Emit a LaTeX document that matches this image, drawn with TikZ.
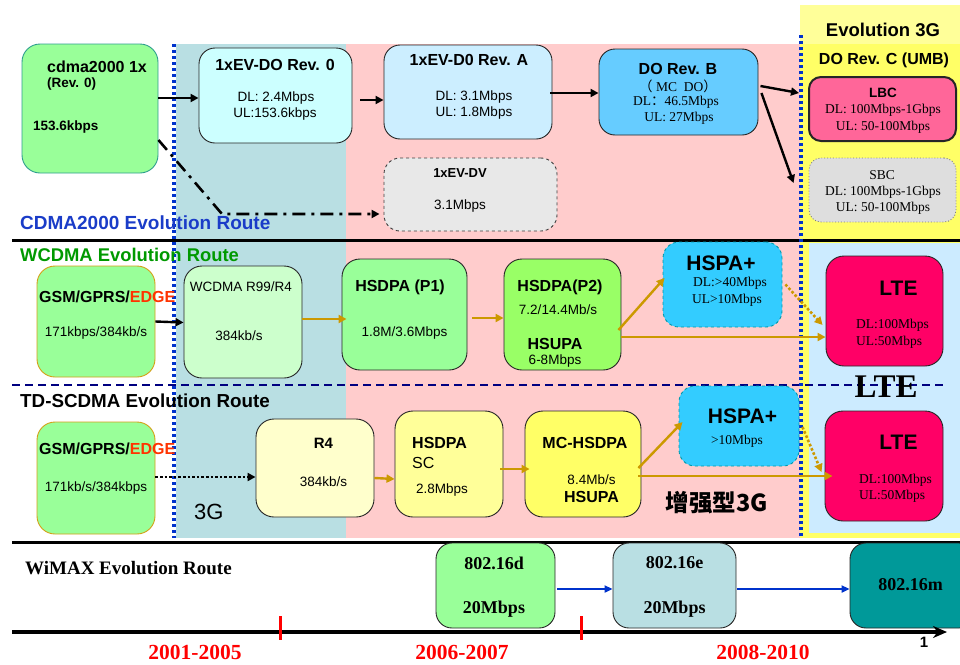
\documentclass[tikz,border=0pt]{standalone}
\usepackage{fontspec}
\setmainfont{Liberation Serif}
\setsansfont{Liberation Sans}
\newfontfamily\cjk{Noto Sans CJK SC}
\usetikzlibrary{arrows.meta,calc}
\newcommand\myfs[1]{\fontsize{#1}{#1}\selectfont}
\definecolor{tealbg}{HTML}{B9DFE3}
\definecolor{pinkbg}{HTML}{FFCCCC}
\definecolor{ylwtop}{HTML}{FFFF99}
\definecolor{ylwbg}{HTML}{FFFF66}
\definecolor{ltebg}{HTML}{CCEBFF}
\definecolor{dotblue}{HTML}{0033CC}
\definecolor{gold}{HTML}{CC9900}
\definecolor{navy}{HTML}{000080}
\definecolor{routeblue}{HTML}{1A3CC8}
\definecolor{routegreen}{HTML}{009900}
\definecolor{edgered}{HTML}{FF3300}
\definecolor{lgreen}{HTML}{99FF99}
\definecolor{lgreenb}{HTML}{99FF66}
\definecolor{pgreen}{HTML}{CCFFCC}
\definecolor{lcyan}{HTML}{CCFFFF}
\definecolor{lblue}{HTML}{CCEEFF}
\definecolor{mblue}{HTML}{66CCFF}
\definecolor{hblue}{HTML}{33CCFF}
\definecolor{lbcpink}{HTML}{FF6699}
\definecolor{ltered}{HTML}{FF0066}
\definecolor{lyel}{HTML}{FFFFCC}
\definecolor{myel}{HTML}{FFFF99}
\definecolor{syel}{HTML}{FFFF66}
\definecolor{wteal}{HTML}{009999}
\definecolor{cdmaborder}{HTML}{2E9E8E}
\definecolor{gsmborder}{HTML}{D4A017}
\definecolor{hspaborder}{HTML}{0099AA}
\begin{document}
\begin{tikzpicture}[x=1pt,y=-1pt,
  box/.style={draw=black!85, line width=0.9pt, rounded corners=16pt, inner sep=0pt},
  sfn/.style={inner sep=0pt, font=\sffamily\myfs{#1}},
  sfb/.style={inner sep=0pt, font=\sffamily\bfseries\myfs{#1}},
  srn/.style={inner sep=0pt, font=\rmfamily\myfs{#1}},
  srb/.style={inner sep=0pt, font=\rmfamily\bfseries\myfs{#1}},
  blk/.style={draw=black, line width=2.4pt, -{Triangle[length=8pt,width=8pt]}},
  gld/.style={draw=gold, line width=2.4pt, -{Triangle[length=8pt,width=8pt]}},
  gdot/.style={draw=gold, line width=2.6pt, dotted, -{Triangle[length=8pt,width=8pt]}},
  blu/.style={draw=dotblue, line width=2pt, -{Triangle[length=8pt,width=7pt]}},
]
\useasboundingbox (0,0) rectangle (960,664);
% backgrounds
\fill[tealbg] (176,44) rectangle (346,538);
\fill[pinkbg] (346,44) rectangle (800,538);
\fill[ylwtop] (800,5) rectangle (960,44);
\fill[ylwbg] (800,44) rectangle (960,538);
\fill[ltebg] (809,243) rectangle (960,533);
% separators
\draw[line width=3pt] (12,240) -- (960,240);
\draw[line width=3pt] (12,542) -- (960,542);
\draw[navy, line width=2pt, dash pattern=on 8pt off 5pt] (12,385) -- (946,385);
\draw[dotblue, line width=3.2pt, dash pattern=on 3pt off 3pt] (174,44) -- (174,538);
\draw[dotblue, line width=3.2pt, dash pattern=on 3pt off 3pt] (801,35) -- (801,538);

% section labels
\node[sfb=19, text=routeblue, anchor=west] (lcdma) at (20,223) {CDMA2000 Evolution Route};
\node[sfb=18.4, text=routegreen, anchor=west] (lwcdma) at (20,255) {WCDMA Evolution Route};
\node[sfb=18.8, anchor=west] (ltd) at (20,401) {TD-SCDMA Evolution Route};
\node[srb=19, anchor=west] (lwimax) at (25,568) {WiMAX Evolution Route};
\node[sfn=22, anchor=west] (l3g) at (194,512) {3G};
\node[srb=33] (llte) at (886,387) {LTE};
\node[inner sep=0pt, font=\cjk\bfseries\myfs{23.5}] (lenh) at (717,503) {增强型3G};
\node[sfb=18.5] (levo) at (883,30) {Evolution 3G};
\node[sfb=16] (ldoc) at (884,60) {DO Rev. C (UMB)};

% CDMA row boxes
\node[box, draw=cdmaborder, fill=lgreen, minimum width=136pt, minimum height=129pt, rounded corners=18pt] (cdma) at (90,108.5) {};
\node[box, fill=lcyan, minimum width=153pt, minimum height=95pt] (rev0) at (275.5,95.5) {};
\node[box, fill=lblue, minimum width=168pt, minimum height=94pt] (revA) at (468,92) {};
\node[box, fill=mblue, minimum width=159pt, minimum height=86pt] (revB) at (678.5,92) {};
\node[box, draw=black!75, dashed, fill=black!9, minimum width=173pt, minimum height=73pt] (dv) at (470.5,194.5) {};
\node[box, line width=2pt, fill=lbcpink, minimum width=147pt, minimum height=64pt, rounded corners=12pt] (lbc) at (882.5,109) {};
\node[box, draw=black!50, dotted, fill=black!13, minimum width=147pt, minimum height=64pt, rounded corners=12pt] (sbc) at (882.5,190) {};

\node[sfb=16, anchor=west] (tc1) at (47,67) {cdma2000 1x};
\node[sfb=13.5, anchor=west] (tc2) at (47,84) {(Rev. 0)};
\node[sfb=13.5, anchor=west] (tc3) at (33,127) {153.6kbps};
\node[sfb=16] (tr01) at (275,65) {1xEV-DO Rev. 0};
\node[sfn=13.5] (tr02) at (276,98) {DL: 2.4Mbps};
\node[sfn=13.5] (tr03) at (275,114) {UL:153.6kbps};
\node[sfb=16] (tra1) at (469,60) {1xEV-D0 Rev. A};
\node[sfn=13.5] (tra2) at (474,97) {DL: 3.1Mbps};
\node[sfn=13.5] (tra3) at (474,113) {UL: 1.8Mbps};
\node[sfb=16] (trb1) at (678,69) {DO Rev. B};
\node[srn=13.5] (trb2) at (678,86) {{\cjk （} MC\ \ DO{\cjk ）}};
\node[srn=13.5] (trb3) at (676,102) {DL{\cjk ：}46.5Mbps};
\node[srn=13.5] (trb4) at (679,118) {UL: 27Mbps};
\node[sfb=13] (tdv1) at (460,173) {1xEV-DV};
\node[sfn=13.5] (tdv2) at (460,206) {3.1Mbps};
\node[sfb=13.5] (tl1) at (883,93) {LBC};
\node[srn=13.5] (tl2) at (883,110) {DL: 100Mbps-1Gbps};
\node[srn=13.5] (tl3) at (883,127) {UL: 50-100Mbps};
\node[srn=13.5] (ts1) at (882,175) {SBC};
\node[srn=13.5] (ts2) at (883,192) {DL: 100Mbps-1Gbps};
\node[srn=13.5] (ts3) at (883,208) {UL: 50-100Mbps};

% WCDMA row boxes
\node[box, draw=gsmborder, fill=lgreen, minimum width=118pt, minimum height=111pt, rounded corners=18pt] (gsmw) at (96,321.5) {};
\node[box, fill=pgreen, minimum width=118pt, minimum height=112pt, rounded corners=18pt] (wcd) at (243,322) {};
\node[box, fill=lgreen, minimum width=125pt, minimum height=111pt, rounded corners=18pt] (p1) at (404.5,314.5) {};
\node[box, fill=lgreenb, minimum width=117pt, minimum height=111pt, rounded corners=18pt] (p2) at (562.5,314.5) {};
\node[box, draw=hspaborder, dashed, fill=hblue, minimum width=119pt, minimum height=85pt] (hspaw) at (722.5,284.5) {};
\node[box, fill=ltered, minimum width=117pt, minimum height=110pt, rounded corners=18pt] (ltew) at (884.5,311) {};

\node[sfb=16, anchor=west] (tgw1) at (39,297) {GSM/GPRS/\textcolor{edgered}{EDGE}};
\node[sfn=13.5] (tgw2) at (96,333) {171kbps/384kb/s};
\node[sfn=13.5] (tw1) at (241,287) {WCDMA R99/R4};
\node[sfn=13.5] (tw2) at (239,336) {384kb/s};
\node[sfb=16] (tp11) at (400,287) {HSDPA (P1)};
\node[sfn=13.5] (tp12) at (404.5,333) {1.8M/3.6Mbps};
\node[sfb=16] (tp21) at (560,287) {HSDPA(P2)};
\node[sfn=13.5] (tp22) at (558,310) {7.2/14.4Mb/s};
\node[sfb=16] (tp23) at (555,344) {HSUPA};
\node[sfn=13.5] (tp24) at (555,361) {6-8Mbps};
\node[sfb=21] (thw1) at (721,263) {HSPA+};
\node[srn=13.5] (thw2) at (730,283) {DL:>40Mbps};
\node[srn=13.5] (thw3) at (727,300) {UL>10Mbps};
\node[sfb=21] (tlw1) at (898.5,288) {LTE};
\node[srn=13.5, anchor=west] (tlw2) at (856,325) {DL:100Mbps};
\node[srn=13.5, anchor=west] (tlw3) at (856,342) {UL:50Mbps};

% TD-SCDMA row boxes
\node[box, draw=gsmborder, fill=lgreen, minimum width=118pt, minimum height=112pt, rounded corners=18pt] (gsmt) at (96,478) {};
\node[box, fill=lyel, minimum width=118pt, minimum height=98pt, rounded corners=18pt] (r4) at (315,468) {};
\node[box, fill=myel, minimum width=108pt, minimum height=106pt, rounded corners=18pt] (sc) at (449,464) {};
\node[box, fill=syel, minimum width=116pt, minimum height=106pt, rounded corners=18pt] (mc) at (583,464) {};
\node[box, draw=hspaborder, dashed, fill=hblue, minimum width=120pt, minimum height=80pt] (hspat) at (739,426) {};
\node[box, fill=ltered, minimum width=118pt, minimum height=110pt, rounded corners=18pt] (ltet) at (884,466) {};

\node[sfb=16, anchor=west] (tgt1) at (39,449) {GSM/GPRS/\textcolor{edgered}{EDGE}};
\node[sfn=13.5] (tgt2) at (96,488) {171kb/s/384kbps};
\node[sfb=15] (tr41) at (323.5,443) {R4};
\node[sfn=13.5] (tr42) at (323.5,482) {384kb/s};
\node[sfb=16, anchor=west] (tsc1) at (412,443) {HSDPA};
\node[sfn=16, anchor=west] (tsc2) at (412,462.5) {SC};
\node[sfn=13.5, anchor=west] (tsc3) at (416,490) {2.8Mbps};
\node[sfb=16] (tmc1) at (585,443) {MC-HSDPA};
\node[sfn=13.5] (tmc2) at (591.5,480) {8.4Mb/s};
\node[sfb=16] (tmc3) at (591.5,497) {HSUPA};
\node[sfb=21] (tht1) at (742.5,416) {HSPA+};
\node[srn=13.5] (tht2) at (737,441) {>10Mbps};
\node[sfb=21] (tlt1) at (898.5,442) {LTE};
\node[srn=13.5, anchor=west] (tlt2) at (859,480) {DL:100Mbps};
\node[srn=13.5, anchor=west] (tlt3) at (859,496) {UL:50Mbps};

% WiMAX row
\node[box, fill=lgreen, minimum width=119pt, minimum height=85pt] (wd) at (495.5,585.5) {};
\node[box, fill=tealbg, minimum width=123pt, minimum height=85pt] (we) at (674.5,585.5) {};
\node[box, fill=wteal, minimum width=125pt, minimum height=85pt] (wm) at (912.5,585.5) {};
\node[srb=18] (twd1) at (494,563) {802.16d};
\node[srb=18] (twd2) at (494,609) {20Mbps};
\node[srb=18] (twe1) at (674.5,563) {802.16e};
\node[srb=18] (twe2) at (674.5,609) {20Mbps};
\node[srb=18] (twm1) at (910.5,585) {802.16m};

% CDMA connectors
\draw[blk] ([yshift=10.5pt]cdma.east) -- ([yshift=-2.5pt]rev0.west);
\draw[blk] ([xshift=8pt,yshift=-4.5pt]rev0.east) -- ([yshift=-8pt]revA.west);
\draw[blk] ([xshift=-2pt,yshift=-1pt]revA.east) -- ([yshift=-1pt]revB.west);
\draw[blk] ([xshift=2pt,yshift=6pt]revB.east) -- ([xshift=-9pt,yshift=16pt]lbc.west);
\draw[blk] ([xshift=3pt,yshift=-1pt]revB.east) -- ([xshift=-15pt,yshift=7pt]sbc.west);
\coordinate (dvbend) at (222,214);
\draw[line width=2.6pt, dash pattern=on 13pt off 6pt on 3pt off 6pt, -{Triangle[length=8pt,width=8pt]}]
  ([yshift=-31.5pt]cdma.east) -- (dvbend) -- ([xshift=-4pt,yshift=-19.5pt]dv.west);

% WCDMA connectors
\draw[blk] (gsmw.east) -- ([yshift=-0.5pt]wcd.west);
\draw[gld] ([yshift=3pt]wcd.east) -- ([xshift=5pt,yshift=-4.5pt]p1.west);
\draw[gld] ([xshift=5pt,yshift=-3.5pt]p1.east) -- ([yshift=-3.5pt]p2.west);
\draw[gld] ([xshift=-3pt,yshift=-15.5pt]p2.east) -- ([xshift=2pt,yshift=6.5pt]hspaw.west);
\draw[gld] ([yshift=-22.5pt]p2.east) -- ([yshift=-26pt]ltew.west);
\draw[gdot] ([xshift=3pt]hspaw.east) -- ([xshift=-3pt,yshift=-14pt]ltew.west);

% TD-SCDMA connectors
\draw[line width=2.6pt, dotted, -{Triangle[length=8pt,width=8pt]}] ([yshift=1pt]gsmt.east) -- ([yshift=-9pt]r4.west);
\draw[gld] ([yshift=-10pt]r4.east) -- ([yshift=-15pt]sc.west);
\draw[gld] ([xshift=-3pt,yshift=-5pt]sc.east) -- ([xshift=5pt,yshift=-5pt]mc.west);
\draw[gld] ([xshift=-3pt,yshift=-4pt]mc.east) -- ([xshift=4pt,yshift=4pt]hspat.west);
\draw[gld] ([xshift=-3pt,yshift=-12pt]mc.east) -- ([xshift=8pt,yshift=-10pt]ltet.west);
\draw[gdot] ([xshift=3pt,yshift=-1pt]hspat.east) -- ([xshift=-3pt,yshift=-6pt]ltet.west);

% WiMAX connectors
\draw[blu] ([xshift=2pt,yshift=-3.5pt]wd.east) -- ([yshift=-3.5pt]we.west);
\draw[blu] ([xshift=1pt,yshift=-3.5pt]we.east) -- ([yshift=-3.5pt]wm.west);

% timeline
\coordinate (axs) at (12,632);
\coordinate (axe) at (947,632);
\draw[line width=4pt, -{Stealth[length=14pt,width=12pt]}] (axs) -- (axe);
\coordinate (tk1) at (280,616);
\coordinate (tk1b) at (280,640);
\coordinate (tk2) at (581,616);
\coordinate (tk2b) at (581,640);
\draw[red, line width=3pt] (tk1) -- (tk1b);
\draw[red, line width=3pt] (tk2) -- (tk2b);
\node[srb=21.5, text=red] (y1) at (195,652) {2001-2005};
\node[srb=21.5, text=red] (y2) at (462,652) {2006-2007};
\node[srb=21.5, text=red] (y3) at (763,652) {2008-2010};
\node[sfb=15] (pg) at (924,642) {1};
\end{tikzpicture}
\end{document}
